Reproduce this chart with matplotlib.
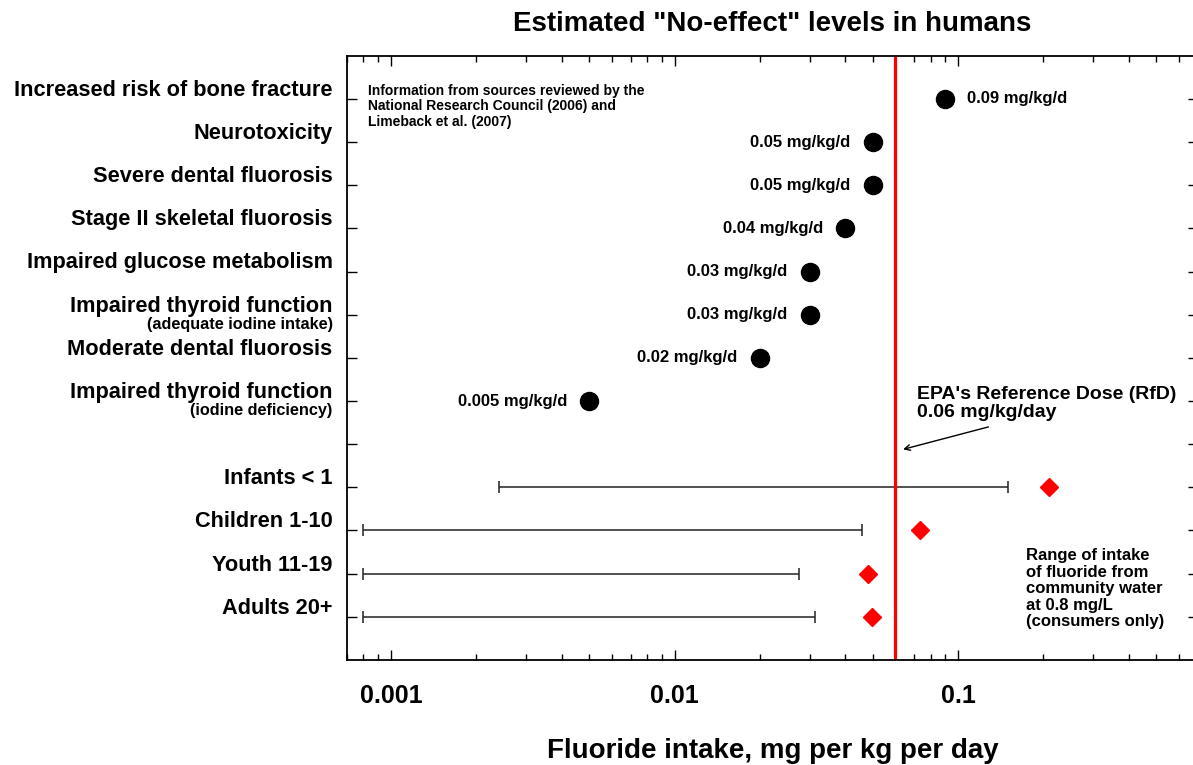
import numpy as np
import matplotlib.pyplot as plt
from matplotlib.ticker import LogLocator, NullFormatter, FixedLocator, FixedFormatter

plt.rcParams['font.family'] = ['Liberation Sans', 'DejaVu Sans']
plt.rcParams['font.weight'] = 'bold'

# "No-effect" levels
effects = ["Increased risk of bone fracture", "Neurotoxicity",
           "Severe dental fluorosis", "Stage II skeletal fluorosis",
           "Impaired glucose metabolism", "Impaired thyroid function",
           "Moderate dental fluorosis", "Impaired thyroid function"]
effect_notes = ["", "", "", "", "", "(adequate iodine intake)", "",
                "(iodine deficiency)"]
effect_doses = [0.09, 0.05, 0.05, 0.04, 0.03, 0.03, 0.02, 0.005]
dose_labels = ["0.09 mg/kg/d", "0.05 mg/kg/d", "0.05 mg/kg/d", "0.04 mg/kg/d",
               "0.03 mg/kg/d", "0.03 mg/kg/d", "0.02 mg/kg/d", "0.005 mg/kg/d"]

# intake from community water by age group
groups = ["Infants < 1", "Children 1-10", "Youth 11-19", "Adults 20+"]
range_low = [0.0024, 0.0008, 0.0008, 0.0008]
range_high = [0.15, 0.0458, 0.0274, 0.0312]
group_marks = [0.209, 0.0735, 0.048, 0.0497]

rfd = 0.06
x_ticks = [0.001, 0.01, 0.1]
x_ticklabels = ["0.001", "0.01", "0.1"]

effect_y = np.arange(1, len(effects) + 1)
group_y = np.arange(len(effects) + 2, len(effects) + 2 + len(groups))

fig = plt.figure(figsize=(11.93, 7.65), dpi=100)
ax = fig.add_axes([0.2909, 0.1373, 0.7130, 0.7898])

# dots with labels
ax.plot(effect_doses, effect_y, 'o', color='black', ms=13, zorder=3)
for i, (d, y, lab) in enumerate(zip(effect_doses, effect_y, dose_labels)):
    if i == 0:
        ax.annotate(lab, (d, y), xytext=(16, 0), textcoords='offset points',
                    ha='left', va='center', fontsize=12)
    else:
        ax.annotate(lab, (d, y), xytext=(-16, 0), textcoords='offset points',
                    ha='right', va='center', fontsize=12)

# intake ranges
for lo, hi, y in zip(range_low, range_high, group_y):
    ax.errorbar([lo], [y], xerr=[[0], [hi - lo]], fmt='none', ecolor='#222222',
                elinewidth=1.1, capsize=4, capthick=1.1)
ax.plot(group_marks, group_y, 'D', color='red', ms=9.5, mec='red', zorder=3)

# reference dose
ax.axvline(rfd, color='red', lw=2.3, zorder=2)
ax.annotate('', xy=(0.064, 9.12), xytext=(0.128, 8.6),
            arrowprops=dict(arrowstyle='->', color='black', lw=1,
                            shrinkA=0, shrinkB=0))
ax.text(0.0716, 8.47, "EPA's Reference Dose (RfD)\n0.06 mg/kg/day",
        fontsize=14, ha='left', va='bottom', linespacing=1.07)

ax.text(0.00083, 1.17, "Information from sources reviewed by the\n"
        "National Research Council (2006) and\nLimeback et al. (2007)",
        fontsize=10, ha='left', va='center', linespacing=1.15)
ax.text(0.174, 12.35, "Range of intake\nof fluoride from\ncommunity water\n"
        "at 0.8 mg/L\n(consumers only)", fontsize=12, ha='left', va='center',
        linespacing=1.12)

# axes and scales
ax.set_xscale('log')
ax.set_xlim(0.0007, 0.7)
ax.set_ylim(14, 0)
ax.yaxis.set_major_locator(FixedLocator(np.arange(1, 14)))
ax.yaxis.set_major_formatter(NullFormatter())
ax.xaxis.set_major_locator(FixedLocator(x_ticks))
ax.xaxis.set_major_formatter(FixedFormatter(x_ticklabels))
ax.xaxis.set_minor_locator(LogLocator(base=10, subs=np.arange(2, 10)))
ax.xaxis.set_minor_formatter(NullFormatter())

# y labels as text
trans = ax.get_yaxis_transform()
for y, lab, note in zip(effect_y, effects, effect_notes):
    ax.text(-0.017, y - 0.2, lab, transform=trans, ha='right', va='center',
            fontsize=15.7)
    if note:
        ax.text(-0.017, y + 0.23, note, transform=trans, ha='right',
                va='center', fontsize=11.7)
for y, lab in zip(group_y, groups):
    ax.text(-0.017, y - 0.2, lab, transform=trans, ha='right', va='center',
            fontsize=15.7)

for s in ax.spines.values():
    s.set_linewidth(1.3)
ax.tick_params(axis='both', which='both', direction='in', top=True,
               right=True, width=1)
ax.tick_params(axis='x', which='major', length=7, labelsize=18, pad=17)
ax.tick_params(axis='x', which='minor', length=4)
ax.tick_params(axis='y', which='major', length=7)

ax.set_title('Estimated "No-effect" levels in humans', fontsize=20,
             fontweight='bold', pad=18)
ax.set_xlabel('Fluoride intake, mg per kg per day', fontsize=20,
              fontweight='bold', labelpad=22)

fig.savefig('out.png', dpi=100)
